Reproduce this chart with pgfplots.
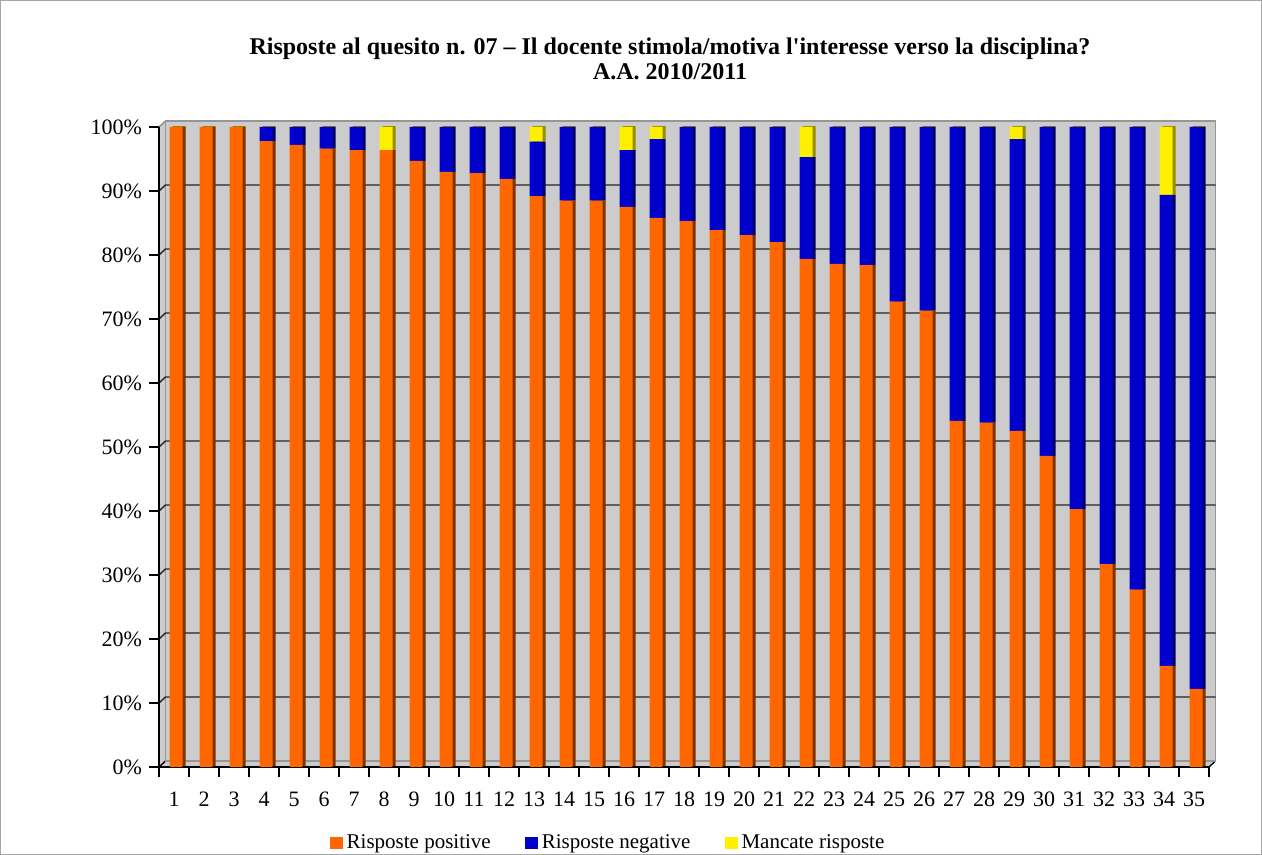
\documentclass[border=0pt]{standalone}
\usepackage{pgfplots}
\pgfplotsset{compat=1.18}
\usepackage{pgfplotstable}
\usepackage{fontspec}
\setmainfont{Liberation Serif}

\definecolor{pos}{RGB}{255,102,0}
\definecolor{posd}{RGB}{128,51,0}
\definecolor{neg}{RGB}{0,0,204}
\definecolor{negd}{RGB}{0,0,102}
\definecolor{mis}{RGB}{255,240,0}
\definecolor{misd}{RGB}{150,140,0}
\definecolor{wall}{RGB}{204,204,204}
\definecolor{edge}{RGB}{150,150,150}

% o = positive, b = negative, y = missing (percent)
\pgfplotstableread{
n o b y
1 100 0 0
2 100 0 0
3 100 0 0
4 97.8 2.2 0
5 97.2 2.8 0
6 96.6 3.4 0
7 96.4 3.6 0
8 96.4 0 3.6
9 94.7 5.3 0
10 93.0 7.0 0
11 92.8 7.2 0
12 91.9 8.1 0
13 89.2 8.5 2.3
14 88.5 11.5 0
15 88.5 11.5 0
16 87.5 8.9 3.6
17 85.8 12.3 1.9
18 85.3 14.7 0
19 83.9 16.1 0
20 83.1 16.9 0
21 82.0 18.0 0
22 79.4 15.9 4.7
23 78.6 21.4 0
24 78.4 21.6 0
25 72.7 27.3 0
26 71.3 28.7 0
27 54.1 45.9 0
28 53.8 46.2 0
29 52.5 45.6 1.9
30 48.6 51.4 0
31 40.3 59.7 0
32 31.7 68.3 0
33 27.7 72.3 0
34 15.8 73.6 10.6
35 12.2 87.8 0
}\risposte

\def\dx{3.25pt}
\def\dy{3pt}
\tikzset{gl/.style={black!85, line width=0.7pt}}

\pgfplotsset{base/.style={scale only axis, width=525pt, height=320pt,
  xmin=0.5, xmax=35.5, ymin=0, ymax=100, enlargelimits=false,
  at={(79.5pt,44pt)}, anchor=south west,
  ybar stacked, bar width=6.5pt}}

\begin{document}
\begin{tikzpicture}
\useasboundingbox (0,0) rectangle (631pt,427.5pt);
\draw[black!35, line width=0.5pt] (0.25pt,0.25pt) rectangle (630.75pt,427.25pt);
\node[font=\bfseries\fontsize{12}{12.5}\selectfont, align=center] at (335pt,398pt)
  {Risposte al quesito n. 07 – Il docente stimola/motiva l\textquotesingle interesse verso la disciplina?\\A.A. 2010/2011};

% wall
\begin{axis}[base, hide axis, clip=false]
\fill[wall] (axis cs:0.5,0) -- (axis cs:0.5,100) -- ([shift={(\dx,\dy)}]axis cs:0.5,100)
  -- ([shift={(\dx,\dy)}]axis cs:35.5,100) -- ([shift={(\dx,\dy)}]axis cs:35.5,0)
  -- (axis cs:35.5,0) -- cycle;
\end{axis}

% grid and edges
\begin{axis}[base, hide axis, clip=false]
\draw[gl] (axis cs:0.5,10) -- ([shift={(\dx,\dy)}]axis cs:0.5,10) -- ([shift={(\dx,\dy)}]axis cs:35.5,10);
\draw[gl] (axis cs:0.5,20) -- ([shift={(\dx,\dy)}]axis cs:0.5,20) -- ([shift={(\dx,\dy)}]axis cs:35.5,20);
\draw[gl] (axis cs:0.5,30) -- ([shift={(\dx,\dy)}]axis cs:0.5,30) -- ([shift={(\dx,\dy)}]axis cs:35.5,30);
\draw[gl] (axis cs:0.5,40) -- ([shift={(\dx,\dy)}]axis cs:0.5,40) -- ([shift={(\dx,\dy)}]axis cs:35.5,40);
\draw[gl] (axis cs:0.5,50) -- ([shift={(\dx,\dy)}]axis cs:0.5,50) -- ([shift={(\dx,\dy)}]axis cs:35.5,50);
\draw[gl] (axis cs:0.5,60) -- ([shift={(\dx,\dy)}]axis cs:0.5,60) -- ([shift={(\dx,\dy)}]axis cs:35.5,60);
\draw[gl] (axis cs:0.5,70) -- ([shift={(\dx,\dy)}]axis cs:0.5,70) -- ([shift={(\dx,\dy)}]axis cs:35.5,70);
\draw[gl] (axis cs:0.5,80) -- ([shift={(\dx,\dy)}]axis cs:0.5,80) -- ([shift={(\dx,\dy)}]axis cs:35.5,80);
\draw[gl] (axis cs:0.5,90) -- ([shift={(\dx,\dy)}]axis cs:0.5,90) -- ([shift={(\dx,\dy)}]axis cs:35.5,90);
\draw[edge, line width=0.8pt] ([shift={(\dx,\dy)}]axis cs:0.5,0) -- ([shift={(\dx,\dy)}]axis cs:0.5,100)
  -- ([shift={(\dx,\dy)}]axis cs:35.5,100) -- ([shift={(\dx,\dy)}]axis cs:35.5,0) -- cycle;
\draw[edge, line width=0.8pt] (axis cs:0.5,100) -- ([shift={(\dx,\dy)}]axis cs:0.5,100);
\draw[black, line width=0.7pt] (axis cs:0.5,0) -- ([shift={(\dx,\dy)}]axis cs:0.5,0);
\draw[black, line width=0.7pt] (axis cs:35.5,0) -- ([shift={(\dx,\dy)}]axis cs:35.5,0);
\end{axis}

% dark sides and tops of the bars
\begin{axis}[base, hide axis]
\addplot[fill=posd, draw=none, bar shift=2.6pt] table[x=n, y=o] {\risposte};
\addplot[fill=negd, draw=none, bar shift=2.6pt] table[x=n, y=b] {\risposte};
\addplot[fill=misd, draw=none, bar shift=2.6pt] table[x=n, y expr=\thisrow{y}+0.5] {\risposte};
\end{axis}

% front faces, axes and legend
\begin{axis}[base,
  axis x line*=bottom, axis y line*=left,
  axis line style={black, line width=0.7pt},
  tick style={black, line width=0.7pt},
  tick align=outside, major tick length=5pt,
  ytick={0,10,...,100},
  yticklabel={\pgfmathprintnumber{\tick}\%},
  xtick={0.5,1.5,...,35.5},
  x tick label as interval,
  xticklabel={\pgfmathparse{int(\tick+0.5)}\pgfmathresult},
  /pgf/number format/assume math mode=true,
  ticklabel style={font=\fontsize{11}{12}\selectfont},
  xticklabel style={yshift=-4pt},
  legend image code/.code={\fill[#1] (0pt,-3.2pt) rectangle (6.5pt,3.2pt);},
  legend style={at={(0.4286,0)}, anchor=center, yshift=-38pt, draw=none, fill=none,
    legend columns=-1, font=\fontsize{10.5}{12}\selectfont,
    /tikz/every even column/.append style={column sep=15pt}},
]
\addplot[fill=pos, draw=none, bar shift=1pt] table[x=n, y=o] {\risposte};
\addlegendentry{Risposte positive}
\addplot[fill=neg, draw=none, bar shift=1pt] table[x=n, y=b] {\risposte};
\addlegendentry{Risposte negative}
\addplot[fill=mis, draw=none, bar shift=1pt] table[x=n, y=y] {\risposte};
\addlegendentry{Mancate risposte}
\end{axis}
\end{tikzpicture}
\end{document}
